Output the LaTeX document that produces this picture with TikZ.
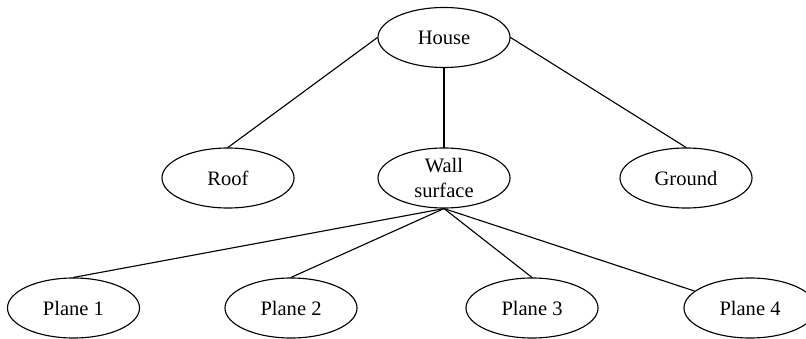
\documentclass[tikz,border=0pt]{standalone}
\usepackage{fontspec}
\setmainfont{Liberation Serif}
\usetikzlibrary{shapes.geometric}
\tikzset{part/.style={draw,ellipse,minimum width=3.3cm,minimum height=1.5cm,inner sep=0pt,font=\fontsize{14.6}{17.8}\selectfont}}

\begin{document}
\begin{tikzpicture}[line cap=round,line join=round,x=0.025cm,y=-0.025cm,line width=0.8pt]
	\useasboundingbox (0,0) rectangle (806,339);
	\clip (0,0) rectangle (806,339);
	% top and middle row
	\node[part] (house) at (444,37.5) {House};
	\node[part] (roof) at (228,178) {Roof};
	\node[part,align=center] (wall) at (444,178) {Wall\\surface};
	\node[part] (ground) at (686,178) {Ground};
	% planes of the wall
	\node[part] (p1) at (73.5,308) {Plane 1};
	\node[part] (p2) at (291,308) {Plane 2};
	\node[part] (p3) at (532,308) {Plane 3};
	\node[part] (p4) at (750,308) {Plane 4};
	\draw (house.west) -- (roof.north);
	\draw (house.south) -- (wall.north);
	\draw (house.east) -- (ground.north);
	\foreach \p in {p1,p2,p3}
		\draw (wall.south) -- (\p.north);
	\draw (wall.south) -- (p4.163);
\end{tikzpicture}
\end{document}
